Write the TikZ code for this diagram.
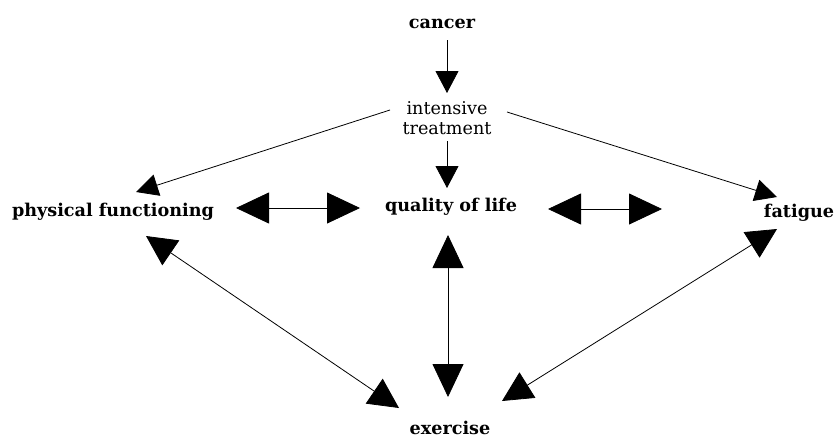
\documentclass[tikz,border=0pt]{standalone}
\usepackage{fontspec}
\setmainfont{DejaVu Serif}
\usetikzlibrary{arrows.meta}
\begin{document}
\begin{tikzpicture}[x=1pt,y=-1pt,
  label/.style={inner sep=0pt,font=\bfseries\fontsize{17.6}{20}\selectfont},
  plain/.style={inner sep=0pt,align=center,font=\fontsize{17.6}{20}\selectfont},
  link/.style={line width=0.8pt},
  smallhead/.style={-{Triangle[length=22pt,width=23pt]}},
  diaghead/.style={-{Triangle[length=22pt,width=22pt]}},
  bighead/.style={{Triangle[length=33pt,width=31pt]}-{Triangle[length=33pt,width=31pt]}},
  crosshead/.style={{Triangle[length=30pt,width=30pt]}-{Triangle[length=30pt,width=30pt]}}]
\useasboundingbox (0,0) rectangle (834,439);

% labels
\node[label] (cancer) at (442,24) {cancer};
\node[plain] (it) at (447,118) {intensive\\treatment};
\node[label] (pf) at (113,212) {physical functioning};
\node[label] (ql) at (451,207) {quality of life};
\node[label] (fat) at (799,213) {fatigue};
\node[label] (ex) at (450,428) {exercise};

% one-way arrows from the cause nodes
\draw[link,smallhead] ([shift={(5,16)}]cancer.center) -- ([shift={(0,-25)}]it.center);
\draw[link,smallhead] ([shift={(0,23)}]it.center) -- ([shift={(-4,-19)}]ql.center);
\draw[link,diaghead] ([shift={(-57,-8)}]it.center) -- ([shift={(23,-20)}]pf.center);
\draw[link,diaghead] ([shift={(60,-6)}]it.center) -- ([shift={(-22,-16)}]fat.center);

% two-way relations
\draw[link,bighead] ([shift={(123,-4)}]pf.center) -- ([shift={(-91,1)}]ql.center);
\draw[link,bighead] ([shift={(97,2)}]ql.center) -- ([shift={(-137,-4)}]fat.center);
\draw[link,bighead] ([shift={(-3,28)}]ql.center) -- ([shift={(-2,-31)}]ex.center);
\draw[link,crosshead] ([shift={(33,24)}]pf.center) -- ([shift={(-51,-20)}]ex.center);
\draw[link,crosshead] ([shift={(-22,16)}]fat.center) -- ([shift={(52,-27)}]ex.center);
\end{tikzpicture}
\end{document}
